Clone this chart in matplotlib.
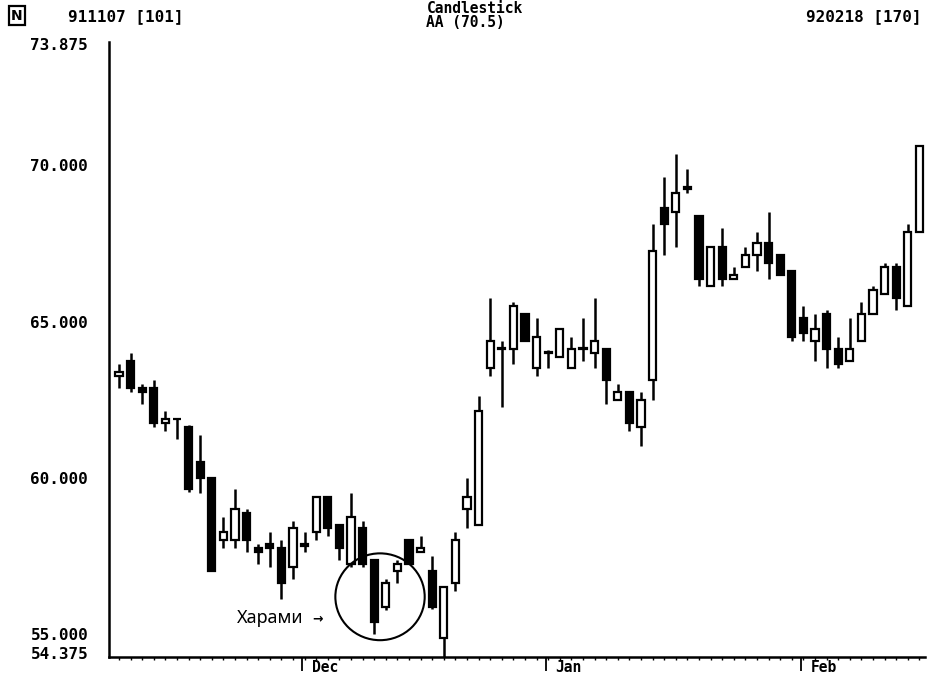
import numpy as np
import matplotlib
matplotlib.use("Agg")
import matplotlib.pyplot as plt
from matplotlib.patches import Ellipse

# OHLC, 70 sessions 911107 .. 920218
opens = [63.25, 63.75, 62.875, 62.875, 61.75, 61.875, 61.625, 60.5, 60.0, 58.0,
         58.0, 58.875, 57.75, 57.875, 57.75, 57.125, 57.875, 58.25, 59.375, 58.5,
         57.25, 58.375, 57.375, 55.875, 57.0, 58.0, 57.625, 57.0, 54.875, 56.625,
         59.0, 58.5, 63.5, 64.125, 64.125, 65.25, 63.5, 64.0, 63.875, 63.5,
         64.125, 64.0, 64.125, 62.5, 62.75, 61.625, 63.125, 68.625, 68.5, 69.3,
         68.375, 66.125, 67.375, 66.375, 66.75, 67.125, 67.5, 67.125, 66.625, 65.125,
         64.375, 65.25, 64.125, 63.75, 64.375, 65.25, 65.875, 66.75, 65.5, 67.875]
highs = [63.625, 64.0, 63.0, 63.125, 62.125, 61.875, 61.7, 61.375, 60.0, 58.75,
         59.625, 59.0, 57.875, 58.25, 58.0, 58.625, 58.25, 59.375, 59.375, 58.5,
         59.5, 58.625, 57.375, 56.75, 57.375, 58.0, 58.125, 57.5, 56.5, 58.25,
         60.0, 62.625, 65.75, 64.375, 65.625, 65.25, 65.125, 64.1, 64.75, 64.5,
         65.125, 65.75, 64.125, 63.0, 62.75, 62.75, 68.125, 69.625, 70.375, 69.875,
         68.375, 67.375, 68.0, 66.75, 67.375, 67.875, 68.5, 67.125, 66.625, 65.5,
         65.25, 65.375, 64.5, 65.125, 65.625, 66.125, 66.875, 66.875, 68.125, 70.625]
lows = [62.875, 62.75, 62.375, 61.625, 61.5, 61.25, 59.55, 59.5, 57.0, 57.75,
        57.75, 57.625, 57.25, 57.125, 56.125, 56.75, 57.625, 58.0, 58.125, 57.375,
        57.125, 57.125, 55.0, 55.75, 56.625, 57.25, 57.625, 55.8, 54.25, 56.375,
        58.375, 58.5, 63.25, 62.25, 63.625, 64.375, 63.25, 63.5, 63.875, 63.5,
        63.75, 63.5, 62.375, 62.5, 61.5, 61.0, 62.5, 67.125, 67.375, 69.125,
        66.125, 66.125, 66.125, 66.375, 66.75, 66.625, 66.375, 66.5, 64.375, 64.375,
        63.75, 63.5, 63.5, 63.75, 64.375, 65.25, 65.875, 65.375, 65.5, 67.875]
closes = [63.375, 62.875, 62.75, 61.75, 61.875, 61.875, 59.625, 60.0, 57.0, 58.25,
          59.0, 58.0, 57.625, 57.75, 56.625, 58.375, 57.8, 59.375, 58.375, 57.75,
          58.75, 57.25, 55.375, 56.625, 57.25, 57.25, 57.75, 55.875, 56.5, 58.0,
          59.375, 62.125, 64.375, 64.125, 65.5, 64.375, 64.5, 64.0, 64.75, 64.125,
          64.125, 64.375, 63.125, 62.75, 61.75, 62.5, 67.25, 68.125, 69.125, 69.25,
          66.375, 67.375, 66.375, 66.5, 67.125, 67.5, 66.875, 66.5, 64.5, 64.625,
          64.75, 64.125, 63.625, 64.125, 65.25, 66.0, 66.75, 65.75, 67.875, 70.625]

month_names = ["Dec", "Jan", "Feb"]
month_start = [16, 37, 59]          # first session of each month
y_levels = [54.375, 55.0, 60.0, 65.0, 70.0, 73.875]

o, h, l, c = map(np.array, (opens, highs, lows, closes))
x = np.arange(len(o))

fig = plt.figure(figsize=(9.31, 6.75), dpi=100)
ax = fig.add_axes([0.1171, 0.0267, 0.8765, 0.9111])

ax.vlines(x, l, h, color="black", lw=1.8, zorder=2)
body_h = np.maximum(np.abs(c - o), 0.02)
body_colors = np.where(c >= o, "white", "black")
ax.bar(x, body_h, bottom=np.minimum(o, c), width=0.62, color=body_colors,
       edgecolor="black", linewidth=1.6, zorder=3)

# harami callout round candles 23/24
xc = 22.5
yc = (h[22] + l[22]) / 2
ax.add_patch(Ellipse((xc, yc), 7.7, 2.78, fill=False, ec="black", lw=1.5, zorder=4))
ax.text(xc - 6.6, yc - 0.68, "Харами", ha="right", va="center", fontsize=13,
        family=["Noto Sans", "DejaVu Sans"])
ax.text(xc - 5.4, yc - 0.72, "→", ha="center", va="center", fontsize=9,
        fontweight="bold", family=["DejaVu Sans"])

ax.set_xlim(-0.86, 69.48)
ax.set_ylim(54.26, 73.95)

for s in ("top", "right"):
    ax.spines[s].set_visible(False)
for s in ("left", "bottom"):
    ax.spines[s].set_linewidth(1.8)

mono = dict(family="DejaVu Sans Mono", fontweight="bold", fontsize=11.5)

ax.set_yticks(y_levels)
ax.set_yticklabels([f"{v:.3f}" for v in y_levels], **mono)
ax.tick_params(axis="y", length=0, pad=15)

ax.set_xticks(np.array(month_start) - 0.2)
ax.set_xticklabels([])
ax.set_xticks(x, minor=True)
ax.tick_params(axis="x", which="major", length=10, width=1.3, direction="out")
ax.tick_params(axis="x", which="minor", length=2.5, width=1.0, direction="out")
for m, i in zip(month_names, month_start):
    ax.text(i + 0.6, -0.017, m, transform=ax.get_xaxis_transform(),
            ha="left", va="center", **dict(mono, fontsize=10.5))

fig.text(0.012, 0.977, "N", fontsize=10, fontweight="bold", family="DejaVu Sans",
         va="center", bbox=dict(boxstyle="square,pad=0.15", fc="white", ec="black", lw=1.6))
fig.text(0.073, 0.975, "911107 [101]", ha="left", va="center", **mono)
fig.text(0.990, 0.975, "920218 [170]", ha="right", va="center", **mono)
fig.text(0.510, 0.987, "Candlestick", ha="center", va="center", **dict(mono, fontsize=10.5))
fig.text(0.500, 0.966, "AA (70.5)", ha="center", va="center", **dict(mono, fontsize=10.5))

fig.savefig("out.png", dpi=100, facecolor="white")
